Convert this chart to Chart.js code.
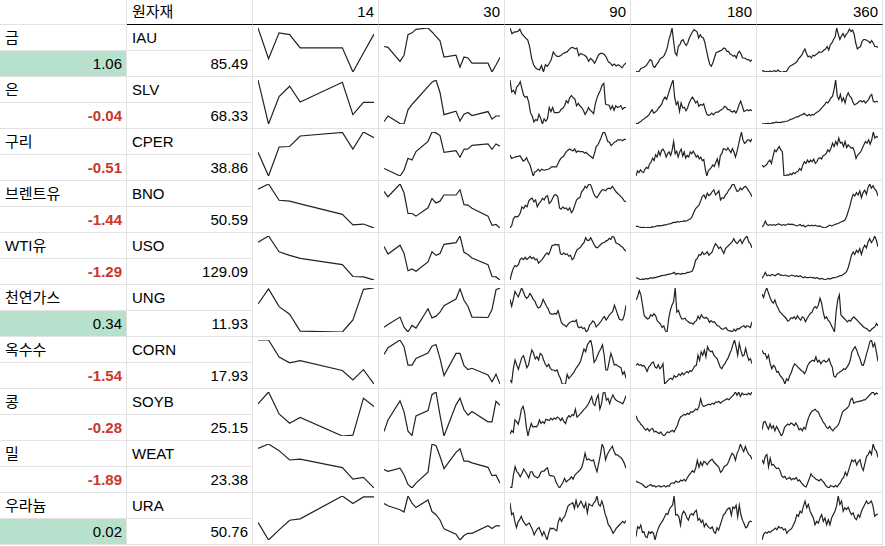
<!DOCTYPE html>
<html>
<head>
<meta charset="utf-8">
<script src="https://cdn.jsdelivr.net/npm/chart.js@4.4.0/dist/chart.umd.min.js"></script>
<style>
  html, body { margin: 0; padding: 0; background: #fff; }
  body {
    width: 885px; height: 546px; position: relative; overflow: hidden;
    font-family: Arial, "Liberation Sans", "Noto Sans CJK KR", sans-serif;
    font-size: 15px; line-height: 17px; color: #000;
  }
  .cell {
    position: absolute; box-sizing: border-box;
    border-right: 1px solid #e2e2e2; border-bottom: 1px solid #e2e2e2;
    display: flex; align-items: flex-end; justify-content: flex-start;
    padding: 0 4px 4px 5px; white-space: nowrap; overflow: hidden;
  }
  .right { justify-content: flex-end; }
  .head { border-bottom: 1px solid #000; }
  .neg { color: #c8372d; font-weight: bold; }
  .pos { background: #b7e1cd; }
  canvas { position: absolute; }
</style>
</head>
<body>
<script>
// Table content
const names = ["금", "은", "구리", "브렌트유", "WTI유", "천연가스", "옥수수", "콩", "밀", "우라늄"];
const tickers = ["IAU", "SLV", "CPER", "BNO", "USO", "UNG", "CORN", "SOYB", "WEAT", "URA"];
const changes = [1.06, -0.04, -0.51, -1.44, -1.29, 0.34, -1.54, -0.28, -1.89, 0.02];
const prices = [85.49, 68.33, 38.86, 50.59, 129.09, 11.93, 17.93, 25.15, 23.38, 50.76];
const periods = ["14", "30", "90", "180", "360"];

// Trading days inside the 14 / 30 day windows (weekends and holidays skipped)
const days14 = [0, 1, 2, 3, 4, 8, 9, 10, 11];
const days30 = [0, 1, 4, 5, 6, 7, 8, 11, 12, 13, 14, 15, 18, 19, 20, 21, 22, 26, 27, 28, 29];

// Relative price levels (one list per commodity)
const spark14 = [
  [100, 30, 89, 85, 55, 55, 0, 43, 86],
  [98, 0, 61, 84, 49, 93, 21, 48, 48],
  [54, 0, 66, 67, 91, 99, 61, 100, 87],
  [88, 100, 63, 61, 55, 31, 7, 9, 0],
  [86, 100, 64, 56, 49, 35, 8, 7, 0],
  [64, 98, 58, 41, 3, 1, 28, 97, 100],
  [99, 99, 61, 48, 53, 31, 10, 33, 1],
  [73, 100, 50, 29, 42, 0, 2, 86, 67],
  [90, 100, 85, 64, 66, 47, 21, 25, 1],
  [40, 0, 23, 45, 48, 100, 83, 98, 98]
];

const spark30 = [
  [58, 56, 24, 38, 85, 89, 97, 100, 91, 81, 71, 34, 38, 11, 34, 32, 20, 20, 0, 16, 33],
  [6, 19, 2, 1, 33, 45, 55, 85, 95, 100, 72, 22, 30, 8, 23, 27, 20, 29, 12, 19, 19],
  [18, 14, 1, 14, 41, 37, 56, 79, 100, 98, 92, 54, 58, 43, 61, 62, 70, 73, 61, 73, 68],
  [83, 71, 100, 80, 33, 33, 27, 46, 67, 57, 61, 75, 75, 87, 53, 52, 45, 27, 6, 8, 0],
  [76, 59, 79, 61, 21, 25, 20, 41, 64, 56, 60, 81, 85, 100, 63, 58, 50, 35, 8, 7, 0],
  [11, 17, 34, 11, 0, 15, 9, 53, 32, 36, 45, 60, 75, 98, 72, 58, 34, 33, 51, 96, 100],
  [67, 82, 99, 84, 43, 43, 58, 70, 85, 89, 58, 20, 69, 69, 42, 33, 36, 21, 6, 23, 1],
  [11, 37, 80, 56, 12, 2, 46, 58, 94, 100, 48, 1, 71, 86, 60, 48, 56, 33, 33, 79, 70],
  [42, 38, 45, 30, 8, 0, 11, 36, 100, 96, 72, 44, 81, 89, 61, 61, 57, 47, 28, 29, 11],
  [83, 78, 69, 64, 100, 84, 74, 91, 65, 58, 46, 26, 14, 1, 11, 16, 16, 33, 27, 33, 33]
];

const spark90 = [
  [117,102,106,107,108,114,102,96,90,86,67,37,20,12,8,6,18,1,20,16,24,34,54,46,42,42,45,50,52,54,60,65,66,62,64,44,50,47,45,40,29,37,32,24,34,46,50,50,47,40,28,25,18,22,17,20,17,12,20,25],
  [128,93,98,88,108,113,123,103,83,78,80,63,33,23,6,13,10,28,16,0,15,8,16,48,36,48,33,33,33,35,43,46,53,68,61,76,83,76,73,53,60,53,48,40,28,36,48,40,36,30,58,76,88,98,113,118,58,56,55,43,53,40,53,48,50,53,43,48,48],
  [64,54,56,58,59,60,62,54,46,49,56,44,36,19,2,14,16,22,16,22,20,19,21,22,24,29,29,29,29,39,49,56,59,66,74,78,82,79,76,82,72,76,74,74,74,69,72,66,62,59,54,69,89,94,104,116,129,132,119,104,102,92,96,102,104,109,109,109,106,111,109],
  [3,10,30,37,35,38,47,65,60,70,65,82,88,90,80,85,65,75,80,90,85,95,98,75,80,90,100,100,95,62,58,65,60,62,55,62,48,55,70,85,90,92,110,115,125,120,130,132,120,105,95,92,100,108,115,115,112,118,120,118,125,118,110,105,100,95,90,82,80],
  [1,21,36,44,41,46,61,66,61,68,61,66,71,64,68,61,63,51,56,61,68,76,81,76,88,103,104,106,104,106,78,76,81,76,78,71,74,61,66,81,91,94,98,106,111,126,118,118,126,116,106,98,96,101,106,111,111,116,118,124,121,131,126,111,108,106,101,98,91,86],
  [97,77,97,120,112,104,117,130,120,107,100,104,114,107,97,92,80,72,74,82,97,87,77,70,57,54,54,56,54,64,47,30,24,22,17,24,30,32,34,32,37,17,14,17,12,14,2,7,22,27,34,30,17,22,27,34,42,47,37,44,52,57,62,80,67,52,39,37,37,52,80],
  [13,6,48,73,58,45,63,80,86,70,50,58,83,103,93,76,83,73,93,88,73,60,53,60,48,43,43,40,43,28,18,1,1,1,30,18,23,30,36,46,53,60,70,88,106,98,118,126,133,110,66,73,86,98,106,118,88,43,43,68,93,78,58,60,56,53,50,30,38,18],
  [14,24,19,54,49,42,59,84,92,74,34,9,29,44,34,36,34,39,54,44,49,44,56,54,52,59,54,59,56,62,59,52,59,49,44,59,66,62,69,66,84,62,66,71,76,82,86,92,99,109,119,99,94,114,124,84,99,129,132,109,114,99,114,124,114,109,106,104,102,99,109,122],
  [5,2,40,65,50,45,35,45,58,50,42,32,50,50,38,35,32,35,48,52,52,58,62,40,38,38,35,20,10,2,10,18,30,20,25,28,35,28,40,45,50,55,62,80,105,85,88,85,82,85,65,50,75,100,132,120,85,100,110,118,125,110,100,100,95,92,85,75,60],
  [111,76,81,56,38,54,61,71,58,51,44,48,51,41,31,16,26,34,38,26,14,26,14,1,21,36,34,36,31,28,56,66,56,66,71,86,101,106,108,111,94,118,98,106,116,106,96,111,81,108,104,101,111,116,131,106,101,116,101,78,66,46,41,31,21,28,36,41,46,51,56,51,58]
];

const spark180 = [
  [2,0,2,10,12,14,17,22,30,37,34,17,14,22,27,37,42,44,50,60,74,97,112,132,92,57,50,77,82,94,97,87,80,87,102,112,120,127,124,120,102,112,104,102,87,64,42,24,17,27,42,57,60,62,64,67,72,70,62,62,54,52,47,50,42,57,62,54,42,42,40,37,37,32,37],
  [3,1,6,8,13,16,20,23,28,36,43,33,36,40,48,53,60,73,80,73,88,103,118,130,78,58,66,38,63,48,50,40,48,63,73,80,73,63,68,53,58,56,60,43,30,26,28,33,28,33,36,36,40,43,46,53,50,43,43,38,36,40,33,43,58,68,53,38,40,43,40,43,40],
  [4,19,14,22,16,14,24,29,26,39,44,56,49,66,59,76,64,79,82,74,59,69,74,64,79,104,69,76,59,74,82,62,74,56,64,59,74,69,76,69,59,64,54,59,49,52,24,4,19,24,29,36,32,44,54,34,64,69,84,82,79,86,79,72,84,74,59,74,94,114,132,109,99,102,109,109,104,112],
  [8,8,6,5,4,5,3,5,4,5,7,6,8,10,9,10,10,12,12,14,15,16,18,20,19,22,20,22,22,24,23,25,28,30,38,50,60,65,70,82,95,100,90,105,98,102,110,115,100,105,112,85,92,90,100,105,115,120,130,132,120,110,112,120,115,122,125,120,112,105,95],
  [8,6,4,1,4,3,6,4,6,8,6,9,8,11,11,14,14,16,16,18,18,20,21,24,18,21,20,18,21,20,21,24,24,26,28,41,61,66,78,76,86,78,81,86,76,81,86,101,111,104,96,101,91,81,96,101,106,111,116,126,116,111,118,124,111,121,128,134,116,111,98],
  [97,107,124,112,82,52,47,42,44,54,50,57,52,37,32,27,17,22,7,4,42,67,82,92,132,62,67,52,42,42,44,37,34,30,30,27,34,37,50,42,54,47,44,47,42,32,37,32,34,27,22,20,14,12,14,17,10,7,7,4,12,7,14,12,17,20,22,17,22,20,17,34],
  [58,63,58,60,56,58,50,40,53,58,66,68,53,50,60,48,53,63,3,8,13,18,20,16,28,23,26,33,28,36,30,36,40,36,43,40,48,56,58,88,73,98,88,103,83,113,103,98,100,88,83,78,66,53,48,58,63,73,80,93,103,120,133,113,88,123,103,86,88,108,88,73,78,63],
  [62,49,44,36,32,24,19,24,16,22,24,14,16,12,9,14,6,2,9,14,12,16,19,14,24,34,49,59,62,66,64,69,66,74,72,76,82,79,89,112,94,89,92,94,96,94,99,96,102,102,104,99,104,106,109,112,109,114,119,124,132,122,132,119,129,124,126,124,129,124,132],
  [25,22,20,18,15,10,5,10,12,15,10,12,8,10,12,8,10,12,8,12,10,18,20,18,25,22,22,28,25,30,25,35,42,48,55,50,62,85,65,80,70,82,78,72,80,85,88,80,75,70,65,50,55,65,70,72,82,95,105,100,85,105,115,132,120,110,125,112,102,98,88],
  [11,41,36,46,24,26,11,8,26,21,26,21,1,21,36,46,54,61,71,81,78,94,101,106,134,76,78,71,46,78,88,81,68,61,76,81,76,86,91,61,66,54,61,41,51,44,38,36,41,26,21,38,31,46,61,76,81,91,96,98,76,101,96,106,71,106,78,61,51,38,41,54,58,56]
];

const spark360 = [
  [7,7,4,6,4,7,4,7,8,4,10,6,4,4,6,4,10,17,22,24,27,30,34,42,47,52,62,70,57,47,50,44,52,50,54,57,62,60,62,67,70,77,67,82,87,97,104,130,112,97,107,114,104,112,117,127,120,124,112,87,70,74,77,92,97,97,94,92,87,94,87,77,77,74],
  [3,2,3,3,4,3,4,6,5,8,6,7,6,8,8,10,10,12,15,16,18,20,23,23,26,28,30,33,28,26,30,26,30,28,33,36,38,43,48,53,58,66,63,70,78,83,103,130,83,73,88,68,78,63,83,93,83,78,66,58,60,63,68,70,66,70,63,68,73,83,88,68,66,68,66],
  [34,29,32,36,44,49,39,59,79,74,82,89,79,74,4,2,6,4,9,6,12,9,14,16,24,19,34,44,39,49,42,49,44,52,39,44,54,56,52,62,64,69,79,74,84,99,89,104,94,114,99,102,89,104,86,94,89,84,86,74,54,64,69,74,84,94,104,99,109,96,109,132,114,119,116],
  [5,10,22,12,10,12,10,12,10,12,14,12,10,12,10,12,14,12,13,12,10,8,10,12,8,10,5,8,10,8,10,8,10,8,7,8,5,4,2,5,8,10,8,10,12,14,15,18,20,22,25,35,50,65,85,100,95,105,98,110,90,105,112,100,120,130,118,125,115,110,95],
  [6,14,24,14,16,14,18,16,14,18,20,16,16,14,16,14,12,14,16,14,12,14,11,14,11,8,11,8,8,10,8,8,6,8,6,4,6,4,1,4,6,4,6,8,8,10,11,14,14,18,21,26,38,56,76,86,78,91,84,96,78,96,106,98,116,126,114,121,134,121,101],
  [114,104,122,132,117,104,92,87,97,82,72,62,57,52,47,42,34,37,44,42,47,40,50,42,37,47,44,32,42,50,57,60,72,77,72,82,102,87,60,42,47,37,32,22,12,2,62,97,112,52,47,42,37,32,37,34,42,47,42,37,32,27,22,17,14,12,7,4,10,14,17,27,20],
  [103,93,93,78,88,63,48,58,53,38,40,28,23,16,3,18,13,28,38,53,63,58,53,48,43,40,33,43,58,66,70,73,70,83,68,73,63,70,73,68,70,78,63,53,26,23,33,36,40,43,48,46,53,60,73,98,106,113,103,88,78,60,58,73,93,108,128,133,113,123,98,70],
  [22,44,46,34,24,39,26,34,19,32,24,14,4,12,29,34,39,36,42,39,34,42,34,22,26,19,29,24,44,59,69,76,79,82,76,74,62,54,44,39,29,26,32,24,19,26,29,34,44,59,74,79,82,86,92,109,114,99,102,104,104,106,106,109,109,114,119,124,129,132,124,129,126],
  [85,75,95,100,65,90,70,72,65,60,62,55,40,35,38,30,32,35,28,32,30,35,25,28,20,15,10,8,20,32,45,38,35,30,28,25,30,25,20,12,8,5,12,10,8,12,8,15,20,30,35,50,40,55,70,85,80,85,70,80,85,65,55,75,95,100,110,100,130,115,110,92],
  [1,18,24,21,26,24,28,31,36,31,41,36,38,31,34,21,28,31,36,46,56,76,71,86,81,101,116,96,106,86,76,66,46,56,51,66,76,56,66,46,61,46,66,76,86,101,131,106,116,86,96,91,98,86,76,81,66,61,76,68,86,96,106,116,108,111,116,101,71,76,78]
];

// Sheet geometry
const colX = [0, 127, 253, 379, 505, 631, 757, 883];
const headerH = 25;
const subRowH = 26;

function addCell(x0, x1, y0, y1, text, cls) {
  const d = document.createElement("div");
  d.className = "cell" + (cls ? " " + cls : "");
  d.style.left = x0 + "px";
  d.style.top = y0 + "px";
  d.style.width = (x1 - x0) + "px";
  d.style.height = (y1 - y0) + "px";
  if (text !== "") {
    const s = document.createElement("span");
    s.textContent = text;
    d.appendChild(s);
  }
  document.body.appendChild(d);
  return d;
}

function spark(x0, x1, y0, y1, xs, ys) {
  const c = document.createElement("canvas");
  c.width = x1 - x0 - 1;
  c.height = y1 - y0 - 1;
  c.style.left = x0 + "px";
  c.style.top = y0 + "px";
  document.body.appendChild(c);
  new Chart(c, {
    type: "line",
    data: {
      datasets: [{
        data: xs.map((x, i) => ({ x: x, y: ys[i] })),
        borderColor: "#222",
        borderWidth: 1.2,
        pointRadius: 0,
        tension: 0,
        fill: false
      }]
    },
    options: {
      responsive: false,
      animation: false,
      events: [],
      layout: { padding: { left: 5, right: 4, top: 3, bottom: 4 } },
      plugins: { legend: { display: false }, tooltip: { enabled: false } },
      scales: {
        x: { type: "linear", display: false, min: xs[0], max: xs[xs.length - 1] },
        y: { type: "linear", display: false, min: Math.min(...ys), max: Math.max(...ys) }
      }
    }
  });
}

// Header row
addCell(colX[0], colX[1], 0, headerH, "", "");
addCell(colX[1], colX[2], 0, headerH, "원자재", "head");
periods.forEach((p, j) => addCell(colX[j + 2], colX[j + 3], 0, headerH, p, "head right"));

// Body rows
names.forEach((name, i) => {
  const top = headerH + i * subRowH * 2;
  const mid = top + subRowH;
  const bot = mid + subRowH;
  const ch = changes[i];
  addCell(colX[0], colX[1], top, mid, name, "");
  addCell(colX[0], colX[1], mid, bot, ch.toFixed(2), "right " + (ch > 0 ? "pos" : "neg"));
  addCell(colX[1], colX[2], top, mid, tickers[i], "");
  addCell(colX[1], colX[2], mid, bot, prices[i].toFixed(2), "right");

  const series = [
    [days14, spark14[i]],
    [days30, spark30[i]],
    [spark90[i].map((v, k) => k), spark90[i]],
    [spark180[i].map((v, k) => k), spark180[i]],
    [spark360[i].map((v, k) => k), spark360[i]]
  ];
  series.forEach((s, j) => {
    addCell(colX[j + 2], colX[j + 3], top, bot, "", "");
    spark(colX[j + 2], colX[j + 3], top, bot, s[0], s[1]);
  });
});
</script>
</body>
</html>
